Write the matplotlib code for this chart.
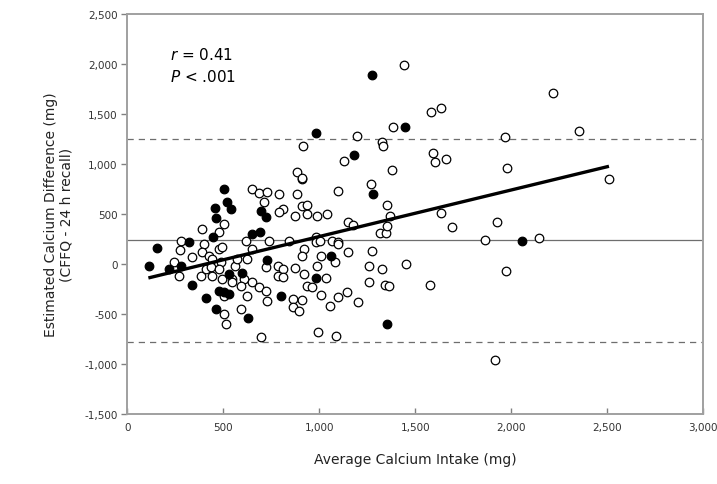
import matplotlib
matplotlib.use('Agg')
import matplotlib.pyplot as plt
from matplotlib.ticker import FuncFormatter, MultipleLocator

# average intake (mg) and difference (mg)
open_x = [652, 689, 730, 793, 887, 908, 1096, 1268, 710, 809, 793, 908, 934, 876, 934,
          991, 1043, 1351, 1367, 506, 391, 480, 1148, 1174, 1315, 1346, 1351, 282, 402,
          621, 741, 845, 986, 986, 1002, 1069, 1096, 277, 339, 391, 428, 443, 480, 496,
          652, 923, 908, 1012, 1080, 1148, 1273, 245, 386, 271, 412, 438, 443, 490, 480,
          496, 548, 610, 626, 725, 783, 809, 783, 814, 876, 923, 991, 1033, 1096, 1262,
          1325, 1450, 548, 595, 652, 689, 725, 730, 934, 965, 1012, 1054, 1096, 1143,
          1200, 1262, 1341, 1362, 506, 626, 861, 913, 861, 897, 506, 516, 595, 699, 996,
          1090, 563, 574,
          1440, 918, 1195, 1127, 1325, 1330, 1383, 1382, 887, 908,
          1581, 1633, 2217, 2353, 1967, 1591, 1602, 1659, 1977, 2509, 1633, 1690, 1925,
          1862, 2144, 1972, 1576, 1915]
open_y = [750, 710, 720, 700, 700, 850, 730, 800, 620, 550, 520, 580, 590, 480, 500,
          480, 500, 590, 480, 400, 350, 320, 420, 390, 310, 310, 380, 230, 200,
          230, 230, 230, 270, 220, 230, 230, 220, 140, 70, 120, 80, 50, 150, 170,
          150, 150, 80, 80, 20, 120, 130, 20, -120, -120, -50, -30, -120, 20, -50,
          -150, -150, -150, 50, -30, -20, -50, -120, -130, -40, -100, -20, -140, 200, -20,
          -50, 0, -180, -220, -180, -230, -270, -370, -220, -230, -310, -420, -330, -280,
          -380, -180, -210, -220, -320, -320, -350, -360, -430, -470, -500, -600, -450, -730, -680,
          -720, -20, 50,
          1990, 1180, 1280, 1030, 1220, 1180, 1370, 940, 920, 860,
          1520, 1560, 1710, 1330, 1270, 1110, 1020, 1050, 960, 850, 510, 370, 420,
          240, 260, -70, -210, -960]

filled_x = [506, 1278, 522, 543, 459, 464, 699, 725, 449, 652, 694, 323, 157, 1059, 115,
            219, 282, 532, 730, 986, 339, 412, 480, 506, 532, 803, 464, 631, 1351, 1273,
            981, 1445, 1184, 2055, 600]
filled_y = [750, 700, 620, 550, 560, 460, 530, 470, 270, 300, 320, 220, 160, 80, -20,
            -50, -20, -100, 40, -140, -210, -340, -270, -280, -300, -320, -450, -540, -600, 1890,
            1310, 1370, 1090, 230, -90]

fit_x = [110, 2510]
fit_y = [-140, 975]
mean_diff = 235
upper_loa = 1250
lower_loa = -780

fig = plt.figure(figsize=(7.17, 4.85), dpi=100)
ax = fig.add_axes([0.1775, 0.144, 0.803, 0.826])

ax.axhline(mean_diff, color='#6e6e6e', linewidth=0.9, zorder=1)
ax.axhline(upper_loa, color='#6e6e6e', linewidth=0.9, linestyle=(0, (5, 4)), zorder=1)
ax.axhline(lower_loa, color='#6e6e6e', linewidth=0.9, linestyle=(0, (5, 4)), zorder=1)

ax.scatter(open_x, open_y, s=38, facecolors='white', edgecolors='black', linewidths=0.9, zorder=3)
ax.scatter(filled_x, filled_y, s=38, facecolors='black', edgecolors='black', linewidths=0.9, zorder=3)
ax.plot(fit_x, fit_y, color='black', linewidth=2.4, solid_capstyle='butt', zorder=4)

ax.set_xlim(0, 3000)
ax.set_ylim(-1500, 2500)
ax.xaxis.set_major_locator(MultipleLocator(500))
ax.yaxis.set_major_locator(MultipleLocator(500))
fmt = FuncFormatter(lambda v, _: f'{int(v):,}')
ax.xaxis.set_major_formatter(fmt)
ax.yaxis.set_major_formatter(fmt)

for side in ax.spines.values():
    side.set_color('#a0a0a0')
    side.set_linewidth(1.4)
ax.tick_params(axis='x', direction='in', length=4, width=1, color='#808080',
               labelsize=7.5, labelcolor='#333333', pad=6)
ax.tick_params(axis='y', direction='out', length=4, width=1, color='#808080',
               labelsize=7.5, labelcolor='#333333', pad=3)

ax.set_xlabel('Average Calcium Intake (mg)', fontsize=10, color='#222222', labelpad=14)
ax.set_ylabel('Estimated Calcium Difference (mg)\n(CFFQ - 24 h recall)', fontsize=10,
              color='#222222', labelpad=8, linespacing=1.1)

ax.text(0.075, 0.9, '$r$ = 0.41', transform=ax.transAxes, fontsize=11, va='center')
ax.text(0.075, 0.845, '$P$ < .001', transform=ax.transAxes, fontsize=11, va='center')

fig.savefig('out.png', dpi=100)
